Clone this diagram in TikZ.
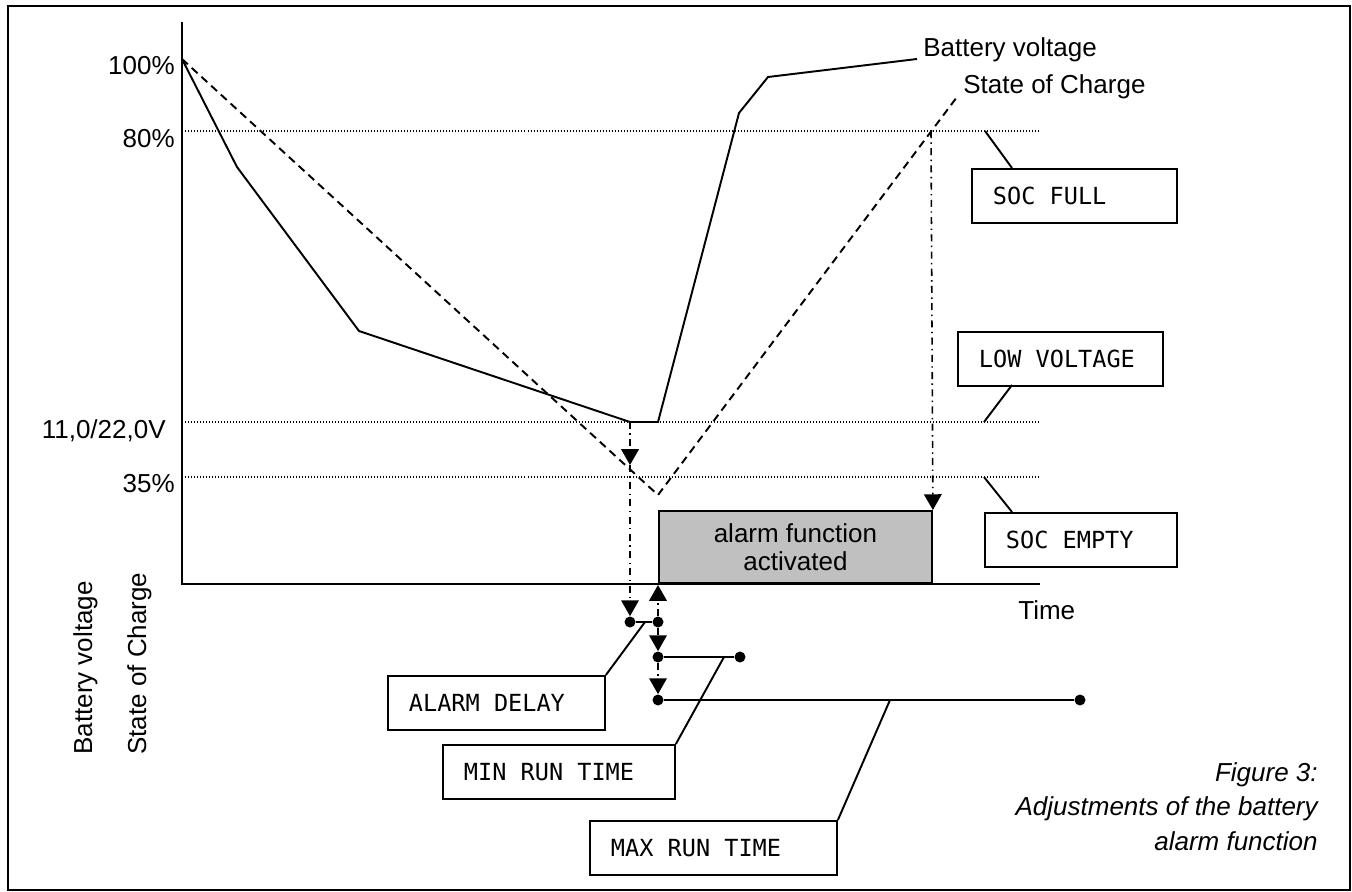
\documentclass[tikz,border=0pt]{standalone}
\usepackage{fontspec}
\setmainfont{Liberation Sans}
\newfontfamily\boxfont{DejaVu Sans Mono}
\usetikzlibrary{arrows.meta}

\tikzset{
  level/.style={line width=0.6pt, dash pattern=on 0.57pt off 1.14pt},
  volt/.style={line width=1.1pt},
  soc/.style={line width=1.1pt, dash pattern=on 4.5pt off 3pt},
  marker/.style={line width=0.9pt, dash pattern=on 4pt off 2.5pt on 0.8pt off 2.5pt,
    -{Triangle[width=10pt,length=9pt]}},
  tagbox/.style={draw, line width=1.1pt, font=\boxfont\fontsize{13.4}{16}\selectfont,
    execute at begin node={\spaceskip=0.602em\relax},
    minimum height=1.09cm, inner xsep=0.42cm, inner ysep=0pt, align=left, anchor=north west},
  dot/.style={circle, fill, inner sep=0pt, minimum size=0.22cm},
  lbl/.style={font=\fontsize{14.8}{16}\selectfont, inner sep=0pt},
}

\begin{document}
\begin{tikzpicture}[x=0.02cm, y=-0.02cm]
    \useasboundingbox (0,0) rectangle (1352,892);
    \draw[line width=1.2pt] (8,6) rectangle (1350,890); %frame

    % axes and levels
    \draw[line width=1.2pt] (182,22) -- (182,584) -- (1040,584);
    \draw[level] (185,131) -- (1040,131); %80%
    \draw[level] (185,422) -- (1040,422); %low voltage
    \draw[level] (185,477) -- (1040,477); %35%

    \node[lbl, anchor=base east] (p100) at (175,75) {100\%};
    \node[lbl, anchor=base east] (p80) at (175,148) {80\%};
    \node[lbl, anchor=base east] (v11) at (166,438) {11,0/22,0V};
    \node[lbl, anchor=base east] (p35) at (175,492) {35\%};
    \node[lbl, rotate=90, anchor=base west] (bvaxis) at (92,755) {Battery voltage};
    \node[lbl, rotate=90, anchor=base west] (socaxis) at (146,755) {State of Charge};
    \node[lbl, anchor=base west] (time) at (1018,619) {Time};

    % curves
    \draw[volt] (182,59) -- (237,167) -- (359,331) -- (630,422) -- (658,422)
        -- (739,113) -- (768,77) -- (917,59); %battery voltage
    \draw[soc] (182,59) -- (658,495) -- (957,97); %state of charge
    \node[lbl, anchor=base west] (bvtop) at (923,57) {Battery voltage};
    \node[lbl, anchor=base west] (soctop) at (963,93) {State of Charge};

    % alarm
    \node[draw, line width=1.1pt, fill={rgb,255:red,192;green,192;blue,192}, lbl,
        anchor=south west, minimum width=5.46cm, minimum height=1.44cm, align=center]
        (alarm) at (658,584) {alarm function\\activated};

    \coordinate (lvhit) at (630,422);
    \coordinate (delaytip) at (630,465);
    \coordinate (fullhit) at (931,131);
    \coordinate (alarmon) at (658,585);
    \node[dot] (d1) at (630,622) {};
    \node[dot] (d2) at (658,622) {};
    \node[dot] (d3) at (658,657) {};
    \node[dot] (d4) at (740,657) {};
    \node[dot] (d5) at (658,700) {};
    \node[dot] (d6) at (1080,700) {};

    \draw[marker] (lvhit) -- (delaytip);
    \draw[marker] (delaytip) -- (d1);
    \draw[marker] (d2) -- (alarmon);
    \draw[marker] (d2) -- (d3);
    \draw[marker] (d3) -- (d5);
    \draw[marker] (fullhit) -- (alarm.north east);
    \draw[volt] (d1) -- (d2);
    \draw[volt] (d3) -- (d4);
    \draw[volt] (d5) -- (d6);

    % setting boxes
    \node[tagbox, text width=3.26cm] (socfull) at (971,168) {SOC FULL};
    \node[tagbox, text width=3.26cm] (lowvolt) at (957,331) {LOW VOLTAGE};
    \node[tagbox, text width=3.0cm] (socempty) at (984,512) {SOC EMPTY};
    \node[tagbox, text width=3.5cm] (delay) at (387,675) {ALARM DELAY};
    \node[tagbox, text width=3.8cm] (minrun) at (442,744) {MIN RUN TIME};
    \node[tagbox, text width=4.1cm] (maxrun) at (589,820) {MAX RUN TIME};

    \coordinate (fullref) at (985,131);
    \coordinate (lowref) at (984,422);
    \coordinate (emptyref) at (984,477);
    \coordinate (delayref) at (645,622);
    \coordinate (minref) at (724,657);
    \coordinate (maxref) at (890,700);
    \draw[volt] (fullref) -- (1012,168);
    \draw[volt] (lowref) -- (1012,385);
    \draw[volt] (emptyref) -- (1012,512);
    \draw[volt] (delay.north east) -- (delayref);
    \draw[volt] (minrun.north east) -- (minref);
    \draw[volt] (maxrun.north east) -- (maxref);

    \node[lbl, font=\itshape\fontsize{14.8}{19.4}\selectfont, align=right, anchor=base east]
        (caption) at (1318,850) {Figure 3:\\Adjustments of the battery\\alarm function};
\end{tikzpicture}
\end{document}
